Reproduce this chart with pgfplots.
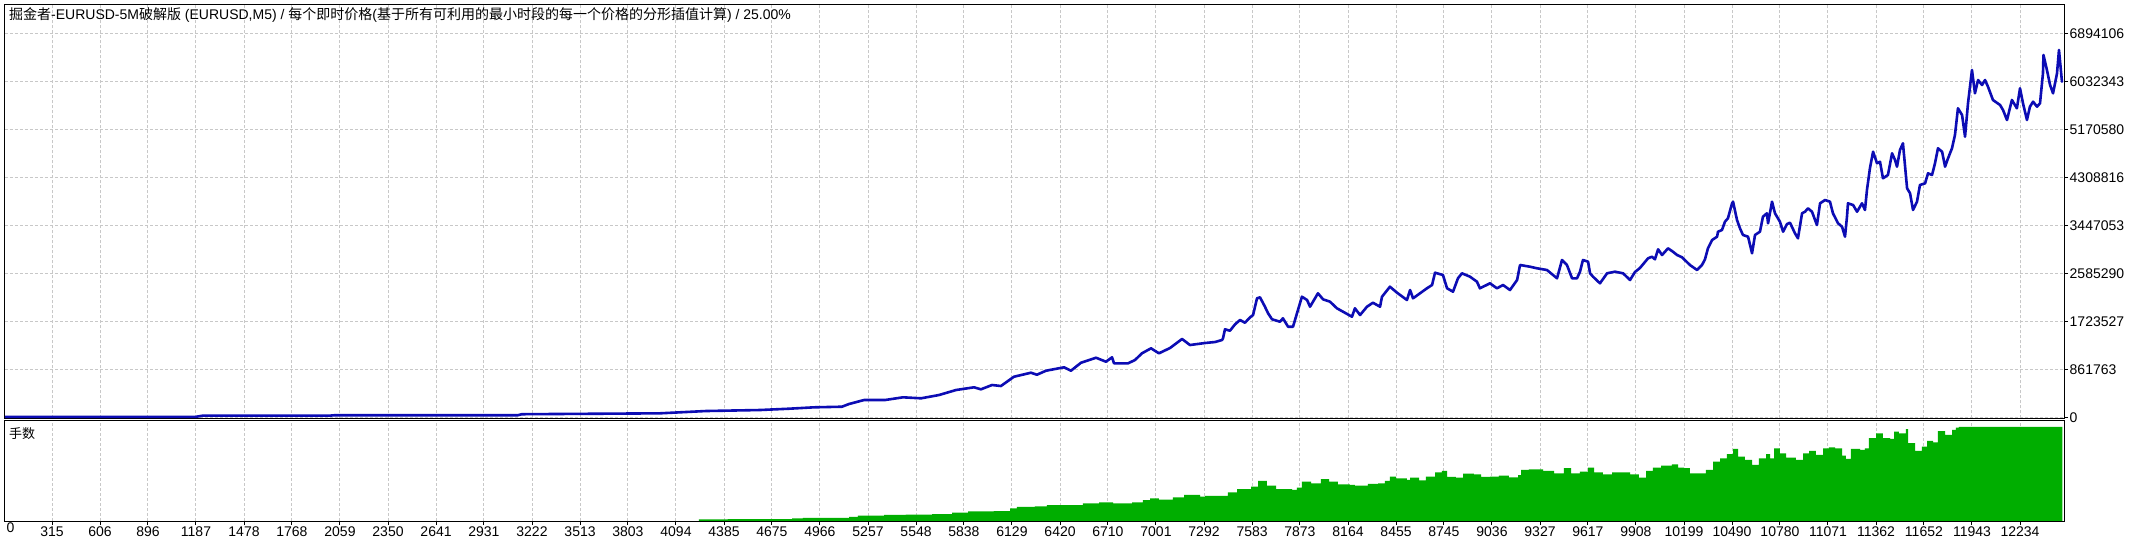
\documentclass[border=0pt]{standalone}
\usepackage{pgfplots}
\pgfplotsset{compat=1.18}
\usepackage{pgfplotstable}
\usepackage{fontspec}
\setmainfont{Liberation Sans}
\newfontfamily\cjk{Noto Sans CJK SC}[Scale=1.0]
\definecolor{bal}{HTML}{0C0CB4}
\definecolor{lotc}{HTML}{00AE00}
\definecolor{gridc}{HTML}{C8C8C8}

\pgfplotstableread{
x y
30 12600
1187 12600
1229 34100
1999 34100
2029 41300
3137 41300
3161 59200
3731 70000
3997 75400
4276 116700
4603 134600
4778 158000
4930 183100
5099 193900
5142 242400
5233 314200
5360 314200
5469 362700
5578 344700
5687 403900
5790 493700
5899 542200
5941 506300
6008 583500
6062 565500
6141 732500
6244 804300
6280 768400
6335 840200
6444 901200
6486 840200
6547 983800
6638 1073600
6698 1001800
6735 1080800
6747 973100
6832 973100
6874 1032300
6916 1152600
6971 1242300
7019 1152600
7086 1247700
7159 1409300
7207 1301600
7298 1337500
7359 1355500
7401 1391400
7407 1421900
7419 1583500
7449 1558300
7480 1673200
7510 1750400
7540 1701900
7571 1798900
7589 1840200
7613 2140000
7631 2157900
7661 1989200
7680 1870700
7704 1763000
7752 1719900
7770 1780900
7801 1630100
7831 1630100
7855 1870700
7885 2168700
7916 2109500
7934 1989200
7952 2079000
7982 2229800
8013 2122000
8055 2079000
8097 1960500
8134 1899400
8188 1809700
8206 1960500
8237 1840200
8279 1989200
8315 2061000
8358 1989200
8370 2168700
8418 2348300
8461 2240500
8521 2109500
8540 2289000
8558 2140000
8600 2229800
8642 2319500
8673 2378800
8691 2599600
8739 2558300
8764 2319500
8800 2258500
8830 2499100
8854 2588800
8903 2527800
8945 2438000
8963 2319500
9024 2409300
9066 2319500
9103 2378800
9145 2289000
9188 2468500
9206 2737800
9266 2707300
9309 2678600
9369 2648100
9430 2499100
9460 2827600
9490 2737800
9521 2499100
9551 2499100
9569 2617500
9587 2827600
9618 2797100
9630 2588800
9648 2527800
9690 2409300
9733 2588800
9781 2617500
9830 2588800
9872 2468500
9902 2612200
9932 2684000
9981 2858100
10005 2886800
10023 2840200
10042 3019700
10066 2917400
10084 2976600
10102 3037600
10132 2976600
10157 2917400
10187 2876100
10235 2737800
10278 2648100
10308 2737800
10326 2840200
10344 3037600
10369 3186700
10399 3245900
10405 3335700
10429 3366200
10447 3515200
10465 3576200
10490 3845500
10496 3874300
10520 3545700
10538 3396700
10556 3276400
10587 3245900
10611 2947900
10629 3276400
10659 3335700
10677 3604900
10701 3666000
10708 3486500
10732 3874300
10750 3666000
10780 3515200
10799 3335700
10823 3473900
10841 3497200
10871 3306900
10889 3217200
10914 3666000
10932 3694700
10950 3755800
10974 3694700
11004 3455900
11023 3845500
11053 3904800
11083 3874300
11101 3666000
11132 3486500
11156 3425400
11174 3245900
11186 3604900
11192 3845500
11223 3815000
11247 3694700
11277 3845500
11295 3725300
11307 4084300
11325 4473900
11344 4771900
11368 4563700
11386 4592400
11404 4294400
11434 4353600
11459 4743200
11477 4622900
11489 4502600
11507 4802400
11525 4922700
11550 4114800
11568 4025100
11586 3725300
11610 3874300
11628 4174100
11659 4204600
11677 4384100
11701 4353600
11719 4563700
11737 4832900
11762 4771900
11780 4502600
11798 4653400
11822 4832900
11840 5071700
11858 5551100
11883 5430800
11901 5041200
11919 5640800
11943 6238700
11961 5820400
11980 6059100
12004 5969400
12022 6059100
12040 5938900
12070 5700100
12113 5610300
12131 5520500
12155 5341000
12185 5700100
12215 5551100
12234 5910100
12252 5640800
12276 5341000
12294 5579800
12313 5669600
12337 5579800
12355 5640800
12373 6179400
12376 6508000
12397 6238700
12416 5969400
12434 5820400
12458 6179400
12470 6597800
12488 6028600
}\balance

\pgfplotstableread{
x lots
30 0
4227 0
4233 1.8
4409 2.1
4797 2.9
4863 3.2
5130 3.2
5142 4.3
5196 5.6
5354 6.4
5487 6.7
5645 7.4
5766 8.8
5863 10.3
6020 10.6
6117 13.5
6159 14.9
6268 15.6
6341 17.0
6462 17.0
6559 18.8
6656 19.9
6717 19.9
6741 18.8
6856 19.9
6922 22.3
6965 24.1
7019 22.7
7104 25.2
7171 27.7
7268 25.9
7298 26.6
7407 26.6
7437 30.5
7492 34.0
7577 36.5
7619 42.6
7673 37.6
7728 34.0
7801 34.0
7825 33.0
7855 35.4
7885 41.8
7940 40.1
8000 44.4
8049 41.8
8103 39.0
8176 38.3
8206 37.6
8249 37.6
8285 39.4
8346 40.1
8388 42.6
8418 47.1
8455 45.4
8521 43.6
8540 46.1
8594 43.3
8636 47.1
8691 51.8
8733 53.2
8764 46.8
8818 46.1
8861 50.3
8927 49.7
8970 46.8
9024 47.1
9078 48.2
9139 46.5
9194 48.9
9212 54.3
9260 55.0
9345 53.2
9412 50.7
9472 56.1
9515 50.7
9569 52.4
9618 56.7
9654 51.8
9708 49.7
9763 51.8
9817 51.8
9872 49.7
9926 46.1
9969 53.2
10011 56.7
10060 58.8
10126 60.3
10163 56.7
10199 56.1
10235 50.7
10290 50.7
10332 54.3
10375 63.1
10417 66.7
10459 71.0
10496 76.6
10526 68.4
10568 64.9
10611 59.6
10653 66.7
10696 71.0
10720 66.7
10744 77.3
10780 72.0
10817 67.3
10877 64.9
10920 72.0
10956 74.5
10998 70.2
11041 77.3
11077 78.4
11114 77.3
11156 69.5
11180 66.0
11210 76.6
11265 75.5
11295 77.3
11319 88.0
11362 93.3
11404 88.0
11447 87.2
11471 95.0
11501 93.3
11543 97.6
11556 82.7
11598 74.5
11640 79.0
11671 85.1
11707 83.7
11737 95.7
11780 91.5
11822 96.8
11846 99.3
11864 100
12491 100
12491 0
}\lots

\pgfplotsset{
  mt4/.style={
    scale only axis, anchor=south west, width=2059bp,
    xmin=30.3, xmax=12500.4,
    scaled ticks=false,
    axis line style={line width=1bp, black},
    grid=major,
    major grid style={gridc, line width=1bp, dash pattern=on 3bp off 2bp},
    tick align=outside, major tick length=4bp,
    tick style={black, line width=1bp},
    tick label style={font=\fontsize{14bp}{16bp}\selectfont, inner sep=1.5bp},
    /pgf/number format/assume math mode=true,
    xtick={315,606,896,1187,1478,1768,2059,2350,2641,2931,3222,3513,3803,4094,4385,4675,4966,5257,5548,5838,6129,6420,6710,7001,7292,7583,7873,8164,8455,8745,9036,9327,9617,9908,10199,10490,10780,11071,11362,11652,11943,12234},
  }
}

\begin{document}
\begin{tikzpicture}
\path[use as bounding box, fill=white] (0,0) rectangle (2129bp,544bp);
\begin{axis}[mt4, at={(5bp,125.7bp)}, height=413.6bp,
  ymin=-14000, ymax=7411000,
  xticklabels={}, xtick style={draw=none},
  ytick={0,861763,1723527,2585290,3447053,4308816,5170580,6032343,6894106},
  yticklabels={0,861763,1723527,2585290,3447053,4308816,5170580,6032343,6894106},
  ytick pos=right, yticklabel pos=right,
  yticklabel style={anchor=west},
]
\addplot[bal, line width=2.6bp, line join=round, line cap=round] table[x=x,y=y]{\balance};
\end{axis}
\begin{axis}[mt4, at={(5bp,23bp)}, height=101bp,
  ymin=0, ymax=107.4,
  ytick=\empty, ymajorgrids=false,
  xtick pos=bottom,
  xticklabels={315,606,896,1187,1478,1768,2059,2350,2641,2931,3222,3513,3803,4094,4385,4675,4966,5257,5548,5838,6129,6420,6710,7001,7292,7583,7873,8164,8455,8745,9036,9327,9617,9908,10199,10490,10780,11071,11362,11652,11943,12234},
  extra x ticks={30.3}, extra x tick labels={0},
  extra x tick style={grid=none, major tick length=0pt, xticklabel style={anchor=north west}},
]
\addplot[fill=lotc, draw=none, const plot] table[x=x,y=lots]{\lots} \closedcycle;
\end{axis}
\node[anchor=base west, inner sep=0pt, font=\fontsize{14bp}{16bp}\selectfont] at (9bp,524.5bp)
  {{\cjk 掘金者}-EURUSD-5M{\cjk 破解版} (EURUSD,M5) / {\cjk 每个即时价格}({\cjk 基于所有可利用的最小时段的每一个价格的分形插值计算}) / 25.00\%};
\node[anchor=base west, inner sep=0pt, font=\fontsize{13bp}{15bp}\selectfont\cjk] at (9bp,105bp) {手数};
\end{tikzpicture}
\end{document}
